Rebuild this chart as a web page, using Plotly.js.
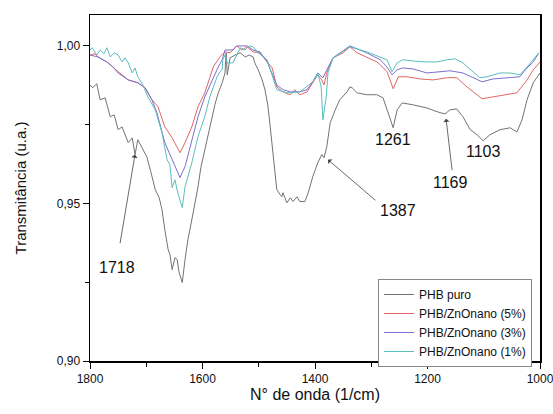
<!DOCTYPE html>
<html>
<head>
<meta charset="utf-8">
<script src="https://cdn.plot.ly/plotly-3.0.1.min.js"></script>
<style>html,body{margin:0;padding:0;background:#fff;}#chart{width:553px;height:414px;}</style>
</head>
<body>
<div id="chart"></div>
<script>
// PHB puro
const xPuro = [1800,1795,1788,1782,1773,1764,1757,1750,1743,1732,1725,1720,1715,1706,1699,1692,1684,1677,1672,1667,1661,1658,1654,1649,1645,1642,1636,1631,1626,1619,1613,1608,1603,1596,1590,1583,1578,1572,1565,1560,1558,1556,1551,1542,1533,1524,1517,1510,1507,1501,1494,1489,1484,1480,1476,1471,1468,1462,1459,1457,1453,1450,1444,1439,1432,1427,1418,1412,1404,1395,1388,1384,1379,1373,1364,1356,1343,1338,1334,1325,1308,1290,1279,1270,1261,1254,1245,1226,1201,1183,1169,1160,1148,1137,1124,1112,1101,1089,1071,1053,1041,1032,1023,1012,1000];
const yPuro = [0.9876,0.9867,0.9880,0.9829,0.9835,0.9775,0.9781,0.9734,0.9743,0.9693,0.9708,0.9655,0.9702,0.9670,0.9648,0.9601,0.9544,0.9518,0.9480,0.9417,0.9353,0.9338,0.9290,0.9328,0.9322,0.9284,0.9249,0.9322,0.9385,0.9448,0.9502,0.9553,0.9613,0.9670,0.9724,0.9775,0.9813,0.9851,0.9883,0.9914,0.9978,0.9908,0.9962,0.9971,0.9978,0.9965,0.9971,0.9965,0.9946,0.9924,0.9892,0.9861,0.9813,0.9750,0.9680,0.9607,0.9544,0.9528,0.9521,0.9534,0.9512,0.9502,0.9518,0.9506,0.9521,0.9506,0.9506,0.9534,0.9585,0.9629,0.9655,0.9645,0.9680,0.9756,0.9797,0.9829,0.9854,0.9870,0.9867,0.9851,0.9845,0.9845,0.9835,0.9788,0.9740,0.9797,0.9819,0.9813,0.9803,0.9791,0.9784,0.9797,0.9800,0.9775,0.9734,0.9718,0.9699,0.9718,0.9734,0.9740,0.9727,0.9765,0.9829,0.9883,0.9914];

// PHB/ZnOnano (5%)
const x5 = [1800,1791,1786,1770,1759,1750,1732,1715,1702,1690,1679,1672,1667,1654,1647,1640,1631,1619,1608,1596,1587,1581,1569,1560,1551,1539,1530,1521,1510,1498,1485,1476,1468,1457,1444,1436,1427,1414,1404,1395,1388,1384,1379,1368,1350,1338,1325,1308,1290,1284,1272,1261,1252,1236,1213,1190,1165,1148,1130,1112,1103,1084,1059,1041,1023,1012,1000];
const y5 = [0.9971,0.9975,0.9965,0.9949,0.9933,0.9918,0.9892,0.9883,0.9867,0.9829,0.9807,0.9772,0.9743,0.9708,0.9683,0.9661,0.9693,0.9743,0.9807,0.9851,0.9899,0.9933,0.9965,0.9981,0.9978,1.0000,0.9987,0.9997,0.9981,0.9978,0.9949,0.9930,0.9870,0.9854,0.9845,0.9861,0.9845,0.9854,0.9883,0.9908,0.9892,0.9876,0.9914,0.9962,0.9978,0.9997,0.9978,0.9965,0.9949,0.9940,0.9918,0.9864,0.9902,0.9902,0.9895,0.9892,0.9899,0.9899,0.9870,0.9845,0.9832,0.9838,0.9845,0.9851,0.9892,0.9924,0.9949];

// PHB/ZnOnano (3%)
const x3 = [1800,1786,1770,1759,1750,1732,1715,1702,1690,1681,1667,1654,1647,1640,1631,1619,1608,1596,1583,1572,1565,1560,1546,1539,1521,1510,1498,1485,1468,1457,1444,1427,1414,1404,1395,1386,1379,1368,1338,1308,1284,1272,1263,1254,1244,1226,1201,1183,1160,1137,1119,1103,1084,1059,1036,1023,1012,1002];
const y3 = [0.9971,0.9965,0.9949,0.9933,0.9914,0.9892,0.9883,0.9867,0.9829,0.9788,0.9693,0.9639,0.9607,0.9582,0.9617,0.9702,0.9775,0.9838,0.9892,0.9933,0.9956,0.9987,0.9987,1.0000,1.0000,0.9987,0.9981,0.9949,0.9876,0.9861,0.9854,0.9854,0.9861,0.9886,0.9914,0.9899,0.9924,0.9962,1.0000,0.9978,0.9956,0.9933,0.9908,0.9924,0.9930,0.9927,0.9914,0.9918,0.9921,0.9914,0.9899,0.9886,0.9895,0.9899,0.9902,0.9930,0.9949,0.9978];

// PHB/ZnOnano (1%)
const x1 = [1800,1796,1788,1782,1775,1770,1764,1757,1750,1743,1738,1732,1725,1720,1715,1706,1697,1684,1672,1663,1658,1654,1649,1644,1636,1631,1619,1608,1596,1587,1574,1569,1565,1564,1560,1556,1546,1539,1533,1524,1517,1510,1501,1485,1476,1468,1450,1427,1404,1395,1389,1386,1380,1377,1368,1338,1308,1284,1272,1263,1254,1244,1226,1201,1183,1165,1151,1137,1119,1107,1094,1071,1053,1036,1023,1012,1002];
const y1 = [0.9987,0.9994,0.9971,0.9987,0.9975,0.9994,0.9965,0.9978,0.9971,0.9949,0.9962,0.9946,0.9914,0.9930,0.9902,0.9876,0.9838,0.9797,0.9724,0.9639,0.9623,0.9550,0.9575,0.9534,0.9487,0.9553,0.9629,0.9712,0.9775,0.9838,0.9902,0.9918,0.9924,0.9956,0.9971,0.9946,0.9946,0.9971,0.9994,0.9987,1.0000,0.9997,0.9978,0.9956,0.9902,0.9861,0.9851,0.9854,0.9886,0.9914,0.9870,0.9765,0.9838,0.9914,0.9962,0.9997,0.9981,0.9965,0.9956,0.9918,0.9946,0.9956,0.9952,0.9949,0.9949,0.9956,0.9959,0.9946,0.9918,0.9899,0.9902,0.9914,0.9914,0.9908,0.9933,0.9956,0.9978];

const seriesNames = ['PHB puro','PHB/ZnOnano (5%)','PHB/ZnOnano (3%)','PHB/ZnOnano (1%)'];
const yTickVals = [0.90, 0.95, 1.00];
const xTickVals = [1800, 1600, 1400, 1200, 1000];

// peak labels: [label, x, y]
const peakLabels = [['1718',1752,0.9296],['1387',1252,0.9477],['1169',1160,0.9566],['1261',1261,0.9702],['1103',1101,0.9664]];
// arrows: [tipX, tipY, tailX, tailY]
const peakArrows = [[1720,0.9655,1747,0.9369],[1377,0.9639,1290,0.9506],[1167,0.9769,1156,0.9601]];

const colors = ['#737373','#e06666','#7b6fcf','#5cbdbd'];
const xs = [xPuro, x5, x3, x1];
const ys = [yPuro, y5, y3, y1];

const traces = xs.map((x, i) => ({
  x: x, y: ys[i], type: 'scatter', mode: 'lines', name: seriesNames[i],
  line: {color: colors[i], width: 1}
}));

const annotations = [];
peakLabels.forEach(p => annotations.push({
  x: p[1], y: p[2], xref: 'x', yref: 'y', text: p[0], showarrow: false,
  font: {family: 'Liberation Sans, Arial, sans-serif', size: 16, color: '#111'}
}));
peakArrows.forEach(a => annotations.push({
  x: a[0], y: a[1], xref: 'x', yref: 'y', ax: a[2], ay: a[3], axref: 'x', ayref: 'y',
  text: '', showarrow: true, arrowhead: 1, arrowsize: 1.3, arrowwidth: 0.8, arrowcolor: '#444', standoff: 0
}));

const layout = {
  width: 553, height: 414,
  margin: {l: 90, r: 13, t: 15, b: 53},
  paper_bgcolor: '#fff', plot_bgcolor: '#fff',
  separators: ',.',
  font: {family: 'Liberation Sans, Arial, sans-serif', size: 12, color: '#111'},
  showlegend: true,
  legend: {
    x: 0.64, y: 0.237, xanchor: 'left', yanchor: 'top',
    bgcolor: '#fff', bordercolor: '#888', borderwidth: 1,
    font: {size: 12, family: 'Liberation Sans, Arial, sans-serif', color: '#111'},
    tracegroupgap: 0
  },
  xaxis: {
    range: [1800, 1000], tickvals: xTickVals, ticks: 'outside', ticklen: 6, tickwidth: 1,
    tickcolor: '#000', showline: true, linecolor: '#000', linewidth: 1.5, mirror: true,
    showgrid: false, zeroline: false, ticklabeloverflow: 'allow',
    minor: {dtick: 100, ticks: 'outside', ticklen: 4, tickcolor: '#000', showgrid: false},
    title: {text: 'N° de onda (1/cm)', font: {size: 16}, standoff: 3},
    tickfont: {size: 12}
  },
  yaxis: {
    range: [0.90, 1.0098], tickvals: yTickVals, tickformat: '.2f', ticks: 'outside', ticklen: 6, tickwidth: 1,
    tickcolor: '#000', showline: true, linecolor: '#000', linewidth: 1.5, mirror: true,
    showgrid: false, zeroline: false,
    minor: {dtick: 0.025, ticks: 'outside', ticklen: 4, tickcolor: '#000', showgrid: false},
    title: {text: 'Transmitância (u.a.)', font: {size: 15}, standoff: 26},
    tickfont: {size: 12}
  },
  annotations: annotations
};

Plotly.newPlot('chart', traces, layout, {staticPlot: true, displayModeBar: false});
</script>
</body>
</html>
